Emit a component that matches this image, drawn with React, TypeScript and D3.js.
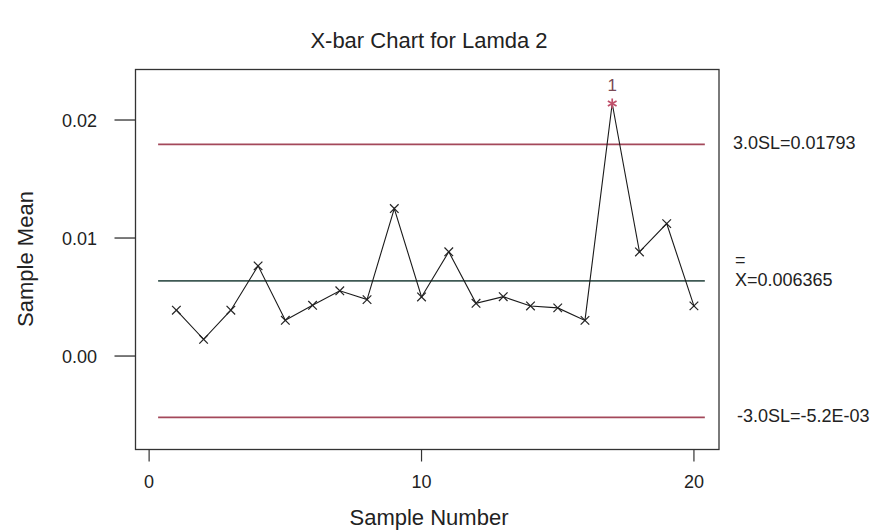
import React from "react";
import * as d3 from "d3";

// Sample numbers and their subgroup means
const sampleNumbers = [1, 2, 3, 4, 5, 6, 7, 8, 9, 10, 11, 12, 13, 14, 15, 16, 17, 18, 19, 20];
const sampleMeans = [
  0.00388, 0.00142, 0.00388, 0.00764, 0.00303, 0.0043, 0.00553, 0.00478, 0.0125, 0.00501,
  0.00883, 0.00447, 0.00503, 0.00424, 0.00408, 0.00302, 0.0214, 0.00882, 0.01122, 0.00425,
];

// Points that failed test 1 and the test number drawn above them
const flaggedSamples = [17];
const flaggedTest = ["1"];

// Control limits and their labels
const limitValues = [0.01793, 0.006365, -0.0052];
const limitKinds = ["limit", "center", "limit"];
const limitLabels = ["3.0SL=0.01793", "X=0.006365", "-3.0SL=-5.2E-03"];

const xTicks = [0, 10, 20];
const yTicks = [0, 0.01, 0.02];
const yTickLabels = ["0.00", "0.01", "0.02"];

const W = 875;
const H = 531;
const FONT = "'Liberation Sans', Arial, Helvetica, sans-serif";

export default function App() {
  const left = 135.5;
  const right = 719;
  const top = 69.5;
  const bottom = 449.5;

  const x = d3.scaleLinear().domain([-0.5, 20.92]).range([left, right]);
  const y = d3.scaleLinear().domain([-0.00792, 0.02428]).range([bottom, top]);

  const line = d3
    .line<number>()
    .x((_, i) => x(sampleNumbers[i]))
    .y((d) => y(d));

  const limitStart = x(0.33);
  const limitEnd = x(20.4);
  const textColor = "#222";

  return (
    <svg
      width={W}
      height={H}
      viewBox={`0 0 ${W} ${H}`}
      style={{ position: "absolute", left: 0, top: 0, background: "#fff" }}
      fontFamily={FONT}
    >
      <rect x={0} y={0} width={W} height={H} fill="#fff" />

      {/* Title */}
      <text x={429} y={48} textAnchor="middle" fontSize={22} fill={textColor}>
        X-bar Chart for Lamda 2
      </text>

      {/* Frame */}
      <rect
        x={left}
        y={top}
        width={right - left}
        height={bottom - top}
        fill="none"
        stroke="#333"
        strokeWidth={1.3}
      />

      {/* Y axis ticks and labels */}
      {yTicks.map((t, i) => (
        <g key={`yt${i}`}>
          <line x1={left - 21} x2={left} y1={y(t)} y2={y(t)} stroke="#333" strokeWidth={1.3} />
          <text
            x={97}
            y={y(t) + 1}
            textAnchor="end"
            dominantBaseline="central"
            fontSize={18}
            fill={textColor}
          >
            {yTickLabels[i]}
          </text>
        </g>
      ))}

      {/* X axis ticks and labels */}
      {xTicks.map((t) => (
        <g key={`xt${t}`}>
          <line x1={x(t)} x2={x(t)} y1={bottom} y2={bottom + 12} stroke="#333" strokeWidth={1.2} />
          <text x={x(t)} y={488} textAnchor="middle" fontSize={18} fill={textColor}>
            {t}
          </text>
        </g>
      ))}

      {/* Axis titles */}
      <text x={429} y={525} textAnchor="middle" fontSize={22} fill={textColor}>
        Sample Number
      </text>
      <text
        transform={`translate(33, 259) rotate(-90)`}
        textAnchor="middle"
        fontSize={22}
        fill={textColor}
      >
        Sample Mean
      </text>

      {/* Control limit and center lines */}
      {limitValues.map((v, i) => (
        <line
          key={`lim${i}`}
          x1={limitStart}
          x2={limitEnd}
          y1={y(v)}
          y2={y(v)}
          stroke={limitKinds[i] === "center" ? "#3f5a55" : "#a3485a"}
          strokeWidth={1.8}
        />
      ))}

      {/* Limit labels */}
      {limitValues.map((v, i) => (
        <text
          key={`ll${i}`}
          x={limitKinds[i] === "center" ? 735 : i === 0 ? 733 : 737}
          y={y(v) - 1}
          dominantBaseline="central"
          fontSize={18}
          fill={textColor}
        >
          {limitLabels[i]}
        </text>
      ))}
      {/* Double bar over the grand mean symbol */}
      <text
        x={735}
        y={y(limitValues[1]) - 21}
        dominantBaseline="central"
        fontSize={18}
        fill={textColor}
      >
        =
      </text>

      {/* Data line */}
      <path d={line(sampleMeans) || ""} fill="none" stroke="#1a1a1a" strokeWidth={1.1} />

      {/* Markers */}
      {sampleMeans.map((v, i) => {
        const cx = x(sampleNumbers[i]);
        const cy = y(v);
        const flagged = flaggedSamples.indexOf(sampleNumbers[i]);
        if (flagged >= 0) {
          const r = 5;
          const d = r * 0.866;
          return (
            <g key={`m${i}`} stroke="#c0506a" strokeWidth={1.7}>
              <line x1={cx} x2={cx} y1={cy - r} y2={cy + r} />
              <line x1={cx - d} x2={cx + d} y1={cy - r / 2} y2={cy + r / 2} />
              <line x1={cx - d} x2={cx + d} y1={cy + r / 2} y2={cy - r / 2} />
              <text
                x={cx}
                y={cy - 18}
                textAnchor="middle"
                dominantBaseline="central"
                fontSize={17}
                fill="#7a4a55"
                stroke="none"
              >
                {flaggedTest[flagged]}
              </text>
            </g>
          );
        }
        const a = 4.3;
        return (
          <g key={`m${i}`} stroke="#222" strokeWidth={1.2}>
            <line x1={cx - a} x2={cx + a} y1={cy - a} y2={cy + a} />
            <line x1={cx - a} x2={cx + a} y1={cy + a} y2={cy - a} />
          </g>
        );
      })}
    </svg>
  );
}
